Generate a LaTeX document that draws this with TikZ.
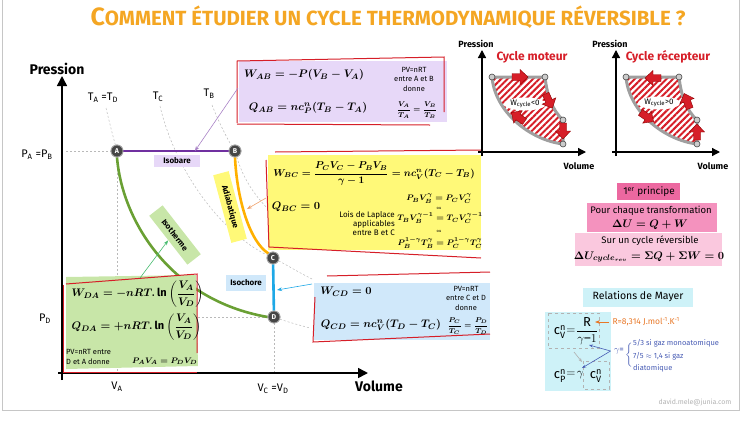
\documentclass[tikz,border=0pt]{standalone}
\usepackage{fontspec}
\setmainfont{Fira Sans}
\usepackage{amsmath}
\usetikzlibrary{arrows.meta,patterns.meta,shapes.geometric,calc}
\newcommand\fsz[1]{\fontsize{#1}{#1}\selectfont}
\definecolor{orangeT}{RGB}{244,166,35}
\definecolor{purpL}{RGB}{112,48,160}
\definecolor{lavF}{RGB}{231,216,248}
\definecolor{yelF}{RGB}{255,249,120}
\definecolor{orgL}{RGB}{255,176,0}
\definecolor{grnL}{RGB}{106,160,52}
\definecolor{grnF}{RGB}{200,230,168}
\definecolor{bluL}{RGB}{30,168,230}
\definecolor{bluF}{RGB}{208,232,250}
\definecolor{redF}{RGB}{214,30,40}
\definecolor{pinkA}{RGB}{236,104,160}
\definecolor{pinkB}{RGB}{244,146,190}
\definecolor{pinkC}{RGB}{250,200,222}
\definecolor{cyaF}{RGB}{206,242,248}
\definecolor{mayB}{RGB}{72,92,180}
\definecolor{mayO}{RGB}{232,120,40}
\definecolor{ptg}{RGB}{70,70,70}
\begin{document}
\begin{tikzpicture}[x=1pt,y=-1pt,
  pt/.style={circle,fill=ptg,draw=gray!70,line width=0.8pt,text=white,inner sep=0pt,minimum size=12pt,font=\fsz{7}\bfseries},
  tagbox/.style={inner sep=2pt,font=\fsz{8}\bfseries},
  isodash/.style={gray!55,line width=0.5pt,dash pattern=on 2pt off 2pt},
  frm/.style={draw=redF,line width=1pt},
  ax/.style={line width=1.6pt,-{Triangle[length=10pt,width=10pt]}},
  sax/.style={line width=1.3pt,-{Triangle[length=8pt,width=8pt]}},
  eq/.style={font=\fsz{11}\boldmath},
  sm/.style={font=\fsz{7.5},align=center,inner sep=0pt},
  mtxt/.style={inner sep=0pt,font=\fsz{13}},
  barrow/.pic={\draw[fill=redF,draw=red!55!black,line width=0.4pt] (-8,-3.5) -- (0,-3.5) -- (0,-7.5) -- (8,0) -- (0,7.5) -- (0,3.5) -- (-8,3.5) -- cycle;}
]
\useasboundingbox (0,0) rectangle (742,421);
% frame
\draw[gray!45,line width=1pt] (2,0) -- (2,410) -- (739,410) -- (739,0);

% title
\node (title) at (388,17) {\color{orangeT}\bfseries\fsz{25}C\fsz{20.5}OMMENT ÉTUDIER UN CYCLE THERMODYNAMIQUE RÉVERSIBLE ?};

% ===== main diagram =====
\coordinate (yb) at (62,380); \coordinate (yt) at (62,76);
\coordinate (xl) at (58,373); \coordinate (xr) at (368,373);
\node (A) [pt] at (117,151) {A};
\node (B) [pt] at (235,151) {B};
\node (C) [pt] at (273,258) {C};
\node (D) [pt] at (274,317) {D};

% dashed guides
\draw[isodash] (66,151) -- (A);
\draw[isodash] (66,317) -- (D);
\draw[isodash] (A) -- (117,373);
\draw[isodash] (D) -- (274,373);
\draw[isodash] (106,108) .. controls (110,125) and (114,140) .. (A);
\draw[isodash] (D) .. controls (285,321) and (295,324) .. (310,328);
\draw[isodash] (160,106) .. controls (175,170) and (220,232) .. (C) .. controls (285,264) and (298,272) .. (312,279);
\draw[isodash] (212,105) .. controls (220,125) and (228,140) .. (B) .. controls (245,185) and (265,215) .. (312,242);

% axes
\draw[ax] (yb) -- (yt);
\draw[ax] (xl) -- (xr);
\node (pres) at (57,69) {\fsz{14}\bfseries Pression};
\node (vol) at (379,386) {\fsz{14}\bfseries Volume};
\node (tad) at (103,98) {\fsz{11}T\textsubscript{A} =T\textsubscript{D}};
\node (tc) at (158,97) {\fsz{11}T\textsubscript{C}};
\node (tb) at (209,94) {\fsz{11}T\textsubscript{B}};
\node (pab) at (37,155) {\fsz{11}P\textsubscript{A} =P\textsubscript{B}};
\node (pd) at (45,319) {\fsz{11}P\textsubscript{D}};
\node (va) at (117,387) {\fsz{11}V\textsubscript{A}};
\node (vcd) at (273,389) {\fsz{11}V\textsubscript{C} =V\textsubscript{D}};

% process curves
\draw[purpL,line width=2.6pt] (A) -- (B);
\draw[orgL,line width=2.6pt] (B.south) .. controls (237,200) and (250,242) .. (C.north west);
\draw[grnL,line width=2.6pt] (A.south) .. controls (122,220) and (170,300) .. (D.west);
\draw[bluL,line width=2.6pt] (C) -- (D);
\node (A) [pt] at (117,151) {A};
\node (B) [pt] at (235,151) {B};
\node (C) [pt] at (273,258) {C};
\node (D) [pt] at (274,317) {D};

% process tags
\node (tisob) [tagbox,fill=lavF,minimum width=46pt,minimum height=12pt] at (177,161) {Isobare};
\node (tadia) [tagbox,fill=yelF,rotate=-75,minimum width=70pt,minimum height=16pt] at (230,207) {Adiabatique};
\node (tisot) [tagbox,fill=grnF,rotate=-52,minimum width=62pt,minimum height=17pt] at (175,235) {Isotherme};
\node (tisoc) [tagbox,fill=bluF,minimum width=40pt,minimum height=16pt] at (246,283) {Isochore};

% ----- purple box
\fill[lavF] (239,61) rectangle (447,122);
\draw[frm] (237,123) -- (237,61) -- (444,57) -- (444,112);
\draw[frm] (237,124) -- (430,125);
\node (wab) [eq] at (304,75) {$W_{AB} = -P(V_B - V_A)$};
\node (qab) [eq] at (308,108) {$Q_{AB} = nc_P^n(T_B - T_A)$};
\node (pvab) [sm] at (414,79) {PV=nRT\\[2pt]entre A et B\\[2pt]donne};
\node (fab) [font=\fsz{7.5}\boldmath] at (417,110) {$\dfrac{V_A}{T_A}=\dfrac{V_B}{T_B}$};
\coordinate (pa1) at (238,88);
\draw[purpL!60,line width=0.6pt,-{Stealth[length=5pt]}] (pa1) -- ($(A)!0.66!(B)$);

% ----- yellow box
\fill[yelF] (268,155) rectangle (481,250);
\draw[frm] (275,152) -- (481,150);
\draw[frm] (266,160) -- (269,247) -- (481,258);
\node (wbc) [font=\fsz{10}\boldmath] at (374,174) {$W_{BC} = \dfrac{P_CV_C - P_BV_B}{\gamma - 1} = nc_V^n(T_C - T_B)$};
\node (qbc) [eq] at (296,207) {$Q_{BC} = 0$};
\node (lap) [font=\fsz{8},align=right,anchor=east,inner sep=0pt] at (395,223) {Lois de Laplace\\[1pt]applicables\\[1pt]entre B et C};
\node (lp1) [font=\fsz{8.5}\boldmath] at (439,199) {$P_BV_B^{\gamma} = P_CV_C^{\gamma}$};
\node (ou1) [font=\fsz{4}] at (439,208) {ou};
\node (lp2) [font=\fsz{8.5}\boldmath] at (440,218) {$T_BV_B^{\gamma-1} = T_CV_C^{\gamma-1}$};
\node (ou2) [font=\fsz{4}] at (439,231) {ou};
\node (lp3) [font=\fsz{8.5}\boldmath] at (440,243) {$P_B^{1-\gamma}T_B^{\gamma} = P_C^{1-\gamma}T_C^{\gamma}$};
\coordinate (ya1) at (266,198); \coordinate (ya2) at (247,209);
\draw[mayO!70,line width=0.6pt,-{Stealth[length=5pt]}] (ya1) -- (ya2);

% ----- green box
\fill[grnF] (66,277) -- (196,275) -- (198,366) -- (66,369) -- cycle;
\draw[frm] (66,284) -- (197,274) -- (197,353);
\draw[frm] (63,285) -- (63,372) -- (197,372);
\node (wda) [eq,anchor=west] at (68,294) {$W_{DA} = -nRT.\ln\left(\dfrac{V_A}{V_D}\right)$};
\node (qda) [eq,anchor=west] at (68,327) {$Q_{DA} = +nRT.\ln\left(\dfrac{V_A}{V_D}\right)$};
\node (pvda) [font=\fsz{7.5},align=left,anchor=west,inner sep=0pt] at (66,357) {PV=nRT entre\\[2pt]D et A donne};
\node (pvda2) [font=\fsz{8.5}\boldmath,anchor=west,inner sep=0pt] at (132,361) {$P_AV_A = P_DV_D$};
\coordinate (ga1) at (140,278);
\draw[grnL!70!cyan,line width=0.6pt,-{Stealth[length=5pt]}] (ga1) -- (tisot.south);

% ----- blue box
\fill[bluF] (314,283) rectangle (490,340);
\draw[frm] (327,276) -- (490,272);
\draw[frm] (315,297) -- (313,342) -- (490,334);
\node (wcd) [eq] at (346,292) {$W_{CD} = 0$};
\node (qcd) [eq] at (381,325) {$Q_{CD} = nc_V^n(T_D - T_C)$};
\node (pvcd) [sm] at (466,298) {PV=nRT\\[2pt]entre C et D\\[2pt]donne};
\node (fcd) [font=\fsz{7.5}\boldmath] at (468,326) {$\dfrac{P_C}{T_C}=\dfrac{P_D}{T_D}$};
\coordinate (ba1) at (312,284);
\draw[bluL,line width=0.6pt,-{Stealth[length=5pt]}] (ba1) -- (277,290);

% ===== small cycles =====
\foreach \dx in {0,134}{
\begin{scope}[xshift=\dx]
  \coordinate (c1) at (492,77); \coordinate (c2) at (545,77);
  \coordinate (c3) at (563,120); \coordinate (c4) at (563,144);
  \draw[sax] (482,156) -- (482,50);
  \draw[sax] (478,152) -- (586,152);
  \path[pattern={Lines[angle=45,distance=4.5pt,line width=2pt]},pattern color=redF]
    (c1) -- (c2) .. controls (547,95) and (552,110) .. (c3) -- (c4) .. controls (530,140) and (495,112) .. (c1) -- cycle;
  \draw[gray!75,line width=3pt,line join=round]
    (c1) -- (c2) .. controls (547,95) and (552,110) .. (c3) -- (c4) .. controls (530,140) and (495,112) .. (c1) -- cycle;
  \foreach \p in {c1,c2,c3,c4}{\draw[fill=gray!40,draw=ptg,line width=0.6pt] (\p) circle (3pt);}
  \node[font=\fsz{9}\bfseries] at (476,44) {Pression};
  \node[font=\fsz{9}\bfseries] at (579,166) {Volume};
\end{scope}}
\node[ellipse,fill=white,inner sep=0.3pt,font=\fsz{8}] (wm) at (525,104) {W\textsubscript{cycle}<0};
\node[ellipse,fill=white,inner sep=0.3pt,font=\fsz{8}] (wr) at (659,103) {W\textsubscript{cycle}>0};
\node[text=redF,font=\fsz{12}\bfseries] (cm) at (532,57) {Cycle moteur};
\node[text=redF,font=\fsz{12}\bfseries] (cr) at (668,57) {Cycle récepteur};
\pic[rotate=0] at (520,77) {barrow};
\pic[rotate=-65] at (549,101) {barrow};
\pic[rotate=-90] at (563,131) {barrow};
\pic[rotate=145] at (518,117) {barrow};
\pic[rotate=180] at (653,78) {barrow};
\pic[rotate=110] at (687,101) {barrow};
\pic[rotate=90] at (697,132) {barrow};
\pic[rotate=-35] at (647,117) {barrow};

% ===== premier principe =====
\fill[pinkC] (575,233) rectangle (722,266);
\fill[pinkB] (587,203) rectangle (717,232);
\fill[pinkA] (617,183) rectangle (680,200);
\node (p1) [font=\fsz{10}] at (649,192) {1\textsuperscript{er} principe};
\node (p2) [font=\fsz{9.5}] at (651,211) {Pour chaque transformation};
\node (p3) [font=\fsz{11}\boldmath] at (650,225) {$\Delta U = Q + W$};
\node (p4) [font=\fsz{9.5}] at (650,241) {Sur un cycle réversible};
\node (p5) [font=\fsz{11}\boldmath] at (649,257) {$\Delta U_{cycle_{rev}} = \Sigma Q + \Sigma W = 0$};

% ===== Mayer =====
\fill[cyaF] (583,288) rectangle (693,307);
\fill[cyaF] (545,312) rectangle (611,391);
\node (mt) [font=\fsz{10.5}] at (638,297) {Relations de Mayer};
\draw[gray!60,dashed,line width=0.7pt] (548,313) rectangle (599,348);
\draw[gray!60,dashed,line width=0.7pt] (583,361) rectangle (609,389);
\node (cv1) [mtxt] at (560,332) {$\text{c}^{\text{n}}_{\text{V}}$};
\node (eq1) [mtxt] at (571,331) {$=$};
\node (frR) [mtxt] at (587,331) {$\dfrac{\text{R}}{\gamma\text{--}1}$};
\node (cp1) [mtxt] at (560,376) {$\text{c}^{\text{n}}_{\text{P}}$};
\node (eq2) [mtxt] at (575,375) {$=\!\gamma$};
\node (cv2) [mtxt] at (596,376) {$\text{c}^{\text{n}}_{\text{V}}$};
\node (rv) [text=mayO,font=\fsz{8.5},anchor=west] at (609,322) {R=8,314 J.mol\textsuperscript{-1}.K\textsuperscript{-1}};
\draw[mayO,line width=0.7pt,-{Stealth[length=5pt]}] (rv.west) -- (595,322);
\node (gm) [text=mayB,font=\fsz{9}] at (619,351) {$\gamma$=};
\node (br) [text=mayB,anchor=west,inner sep=0pt] at (625,355) {$\left\{\rule{0pt}{15pt}\right.$};
\node (g1) [text=mayB,font=\fsz{7.5},anchor=west,inner sep=0pt] at (633,343) {5/3 si gaz monoatomique};
\node (g2) [text=mayB,font=\fsz{7.5},anchor=west,inner sep=0pt] at (633,356) {7/5 $\approx$ 1,4 si gaz};
\node (g3) [text=mayB,font=\fsz{7.5},anchor=west,inner sep=0pt] at (633,368) {diatomique};
\coordinate (ma1) at (574,352); \coordinate (ma2) at (582,362);
\draw[gray!60,line width=0.7pt,-{Stealth[length=4pt]}] (ma1) -- (ma2);
\draw[mayB,line width=0.6pt,-{Stealth[length=4pt]}] (gm.west) -- (589,345);
\draw[mayB,line width=0.6pt,-{Stealth[length=4pt]}] (gm.west) -- (582,368);
\node (mail) [text=gray!60,font=\fsz{7}] at (695,403) {david.mele@junia.com};
\end{tikzpicture}
\end{document}
